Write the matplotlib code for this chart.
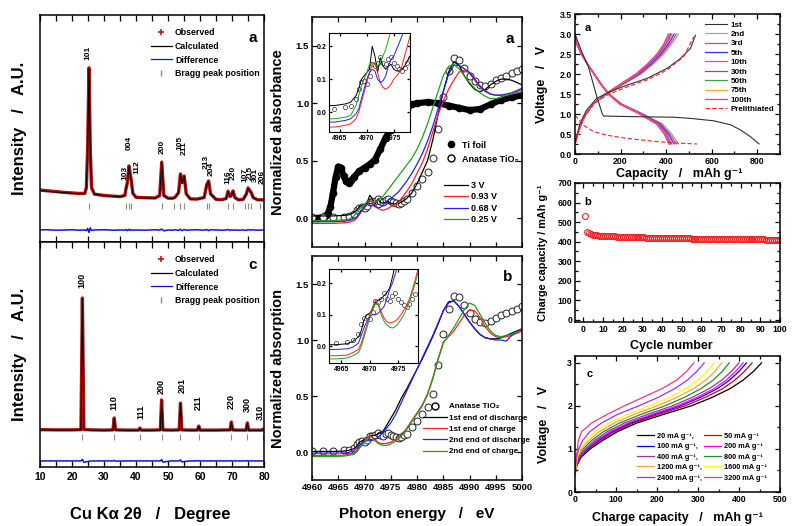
import matplotlib
matplotlib.use('Agg')
import matplotlib.pyplot as plt
from matplotlib.ticker import MultipleLocator, FormatStrFormatter
from matplotlib.lines import Line2D

plt.rcParams['font.family'] = ['Liberation Sans', 'DejaVu Sans']
plt.rcParams['font.weight'] = 'bold'
plt.rcParams['axes.labelweight'] = 'bold'
plt.rcParams['axes.linewidth'] = 1.1
plt.rcParams['xtick.direction'] = 'in'
plt.rcParams['ytick.direction'] = 'in'
plt.rcParams['mathtext.default'] = 'bf'

# ---------------- XRD (left) ----------------
tt_a = [10, 12, 15, 18, 20, 22, 24, 24.5, 24.9, 25.3, 25.7, 26.1, 27, 30, 33, 35, 36.5,
        36.95, 37.3, 37.8, 38.2, 38.57, 39.0, 40, 43, 46, 47.4, 48.05, 48.7, 50, 51.5, 52.2,
        53.3, 53.89, 54.4, 55.06, 55.7, 57, 59, 61.3, 62.1, 62.69, 63.3, 65, 67, 68.2, 68.76,
        69.4, 69.8, 70.31, 70.9, 72, 73.5, 74.5, 75.03, 75.6, 76.02, 76.6, 78, 80]
obs_a = [229, 226, 222, 218, 216, 214, 214, 240, 420, 767, 420, 240, 211, 205, 202, 200, 205,
         240, 262, 335, 300, 268, 215, 197, 195, 194, 205, 352, 205, 193, 193, 197,
         218, 300, 262, 291, 212, 190, 189, 196, 252, 269, 212, 188, 187, 192, 224,
         200, 206, 225, 196, 186, 188, 212, 238, 226, 218, 196, 186, 186]
calc_a = [227, 224, 220, 217, 215, 213, 213, 238, 418, 765, 418, 238, 210, 204, 201, 199, 204,
          238, 260, 333, 298, 266, 214, 196, 194, 193, 204, 350, 204, 192, 192, 196,
          217, 298, 260, 289, 211, 189, 188, 195, 250, 267, 211, 187, 186, 191, 222,
          199, 205, 223, 195, 185, 187, 211, 236, 225, 217, 195, 185, 185]
diff_a = [53, 54, 52, 53, 54, 52, 53, 50, 60, 42, 62, 51, 53, 54, 52, 53, 52, 55, 50, 56,
          51, 54, 52, 53, 52, 54, 52, 57, 49, 53, 52, 54, 51, 56, 50, 55, 52, 53, 54, 52,
          55, 50, 54, 53, 52, 53, 55, 51, 54, 52, 53, 52, 53, 51, 55, 52, 54, 53, 52, 53]
bragg_a = [25.28, 36.95, 37.80, 38.57, 48.05, 51.9, 53.89, 55.06, 62.12, 62.69, 68.76, 70.31,
           74.03, 75.03, 76.02, 78.9]
hkl_a = ['101', '103', '004', '112', '200', '105', '211', '213', '204', '116', '220', '107',
         '215', '301', '206']
hkl_a_x = [25.0, 36.6, 37.8, 40.3, 48.1, 53.75, 55.0, 62.0, 63.6, 68.6, 70.4, 74.1, 75.7, 77.3, 79.4]
hkl_a_y = [833, 304, 436, 330, 419, 436, 414, 352, 322, 286, 304, 295, 304, 295, 286]

tt_c = [10, 15, 20, 22.8, 23.25, 23.7, 26, 30, 32.8, 33.2, 33.6, 37, 40.8, 41.2, 41.6, 45,
        47.6, 48.0, 48.4, 51, 53.5, 53.9, 54.3, 57, 59.2, 59.6, 60.0, 65, 69.4, 69.8, 70.2,
        72, 74.4, 74.8, 75.2, 77, 79.4, 79.8, 80]
obs_c = [166, 165, 165, 166, 751, 167, 165, 164, 165, 218, 165, 164, 164, 173, 164, 164,
         165, 298, 165, 164, 165, 284, 165, 164, 164, 182, 164, 164, 165, 200, 165,
         164, 164, 196, 164, 164, 164, 169, 166]
calc_c = [165, 164, 164, 165, 749, 166, 164, 163, 164, 216, 164, 163, 163, 172, 163, 163,
          164, 296, 164, 163, 164, 282, 164, 163, 163, 181, 163, 163, 164, 199, 164,
          163, 163, 195, 163, 163, 163, 168, 165]
diff_c = [27, 27, 27, 27, 34, 21, 27, 27, 27, 29, 26, 27, 27, 27, 27, 27, 27, 33, 22, 27,
          27, 32, 23, 27, 27, 28, 27, 27, 27, 28, 27, 27, 27, 28, 27, 27, 27, 27, 27]
bragg_c = [23.25, 33.2, 41.2, 48.0, 53.9, 59.6, 69.8, 74.8, 79.8]
hkl_c = ['100', '110', '111', '200', '201', '211', '220', '300', '310']
hkl_c_x = [23.1, 33.1, 41.6, 47.8, 54.4, 59.4, 69.7, 74.7, 78.75]
hkl_c_y = [831, 284, 244, 356, 364, 284, 289, 276, 244]

# ---------------- XANES (middle) ----------------
E = [4960, 4962, 4964, 4966, 4967, 4968, 4968.5, 4969, 4969.5, 4970, 4970.5, 4971, 4971.5,
     4972, 4972.5, 4973, 4973.5, 4974, 4974.5, 4975, 4975.5, 4976, 4976.5, 4977, 4977.5,
     4978, 4979, 4980, 4981, 4982, 4983, 4984, 4985, 4986, 4987, 4988, 4989, 4990, 4991,
     4992, 4993, 4994, 4995, 4996, 4997, 4998, 4999, 5000]
anatase = [0.01, 0.01, 0.01, 0.015, 0.02, 0.04, 0.07, 0.09, 0.095, 0.085, 0.11, 0.145, 0.14,
           0.15, 0.168, 0.15, 0.145, 0.16, 0.168, 0.15, 0.14, 0.13, 0.125, 0.135, 0.15,
           0.165, 0.22, 0.28, 0.34, 0.40, 0.52, 0.78, 1.05, 1.28, 1.39, 1.38, 1.31, 1.24,
           1.19, 1.16, 1.15, 1.17, 1.20, 1.22, 1.24, 1.26, 1.28, 1.30]
v_3 = [0.02, 0.02, 0.02, 0.025, 0.03, 0.05, 0.07, 0.10, 0.11, 0.12, 0.13, 0.20, 0.17, 0.12,
       0.165, 0.14, 0.13, 0.14, 0.145, 0.13, 0.125, 0.125, 0.13, 0.14, 0.155, 0.17, 0.22,
       0.30, 0.40, 0.50, 0.68, 0.90, 1.10, 1.27, 1.36, 1.33, 1.24, 1.17, 1.12, 1.10, 1.12,
       1.16, 1.19, 1.21, 1.21, 1.20, 1.18, 1.16]
v_093 = [-0.045, -0.045, -0.045, -0.04, -0.035, -0.02, 0.0, 0.03, 0.06, 0.09, 0.12, 0.145,
         0.15, 0.12, 0.09, 0.075, 0.07, 0.075, 0.085, 0.10, 0.11, 0.12, 0.14, 0.17, 0.20,
         0.23, 0.30, 0.39, 0.48, 0.60, 0.75, 0.90, 1.02, 1.12, 1.20, 1.27, 1.29, 1.26, 1.20,
         1.14, 1.10, 1.08, 1.07, 1.07, 1.07, 1.08, 1.10, 1.12]
v_068 = [-0.03, -0.03, -0.03, -0.025, -0.02, -0.005, 0.01, 0.04, 0.07, 0.10, 0.12, 0.13,
         0.125, 0.10, 0.09, 0.095, 0.11, 0.14, 0.16, 0.17, 0.19, 0.21, 0.23, 0.26, 0.29,
         0.32, 0.39, 0.47, 0.56, 0.67, 0.80, 0.95, 1.10, 1.25, 1.33, 1.33, 1.30, 1.27, 1.21,
         1.15, 1.11, 1.08, 1.07, 1.07, 1.08, 1.09, 1.11, 1.13]
v_025 = [-0.02, -0.02, -0.02, -0.015, -0.01, 0.02, 0.05, 0.08, 0.10, 0.12, 0.145, 0.15,
         0.145, 0.14, 0.15, 0.17, 0.19, 0.22, 0.25, 0.28, 0.31, 0.34, 0.37, 0.40, 0.43,
         0.46, 0.52, 0.60, 0.70, 0.82, 0.96, 1.10, 1.24, 1.32, 1.34, 1.30, 1.24, 1.18, 1.13,
         1.09, 1.06, 1.04, 1.04, 1.05, 1.07, 1.08, 1.09, 1.10]
dis_1 = [0.005, 0.005, 0.005, 0.008, 0.015, 0.03, 0.05, 0.085, 0.10, 0.105, 0.12, 0.14,
         0.147, 0.15, 0.16, 0.17, 0.185, 0.22, 0.26, 0.30, 0.34, 0.38, 0.43, 0.48, 0.52,
         0.56, 0.65, 0.74, 0.83, 0.93, 1.03, 1.14, 1.26, 1.34, 1.35, 1.30, 1.23, 1.16, 1.10,
         1.05, 1.02, 1.01, 1.01, 1.02, 1.04, 1.06, 1.08, 1.10]
chg_1 = [-0.03, -0.03, -0.03, -0.028, -0.02, -0.01, 0.01, 0.04, 0.07, 0.10, 0.125, 0.145,
         0.135, 0.11, 0.09, 0.078, 0.074, 0.076, 0.08, 0.088, 0.10, 0.115, 0.13, 0.15, 0.18,
         0.21, 0.28, 0.35, 0.42, 0.52, 0.66, 0.83, 0.98, 1.03, 1.08, 1.15, 1.22, 1.27, 1.26,
         1.20, 1.12, 1.06, 1.03, 1.02, 1.03, 1.04, 1.06, 1.08]
dis_2 = [-0.01, -0.01, -0.01, -0.008, -0.003, 0.01, 0.035, 0.06, 0.08, 0.095, 0.10, 0.10,
         0.105, 0.115, 0.126, 0.15, 0.18, 0.20, 0.23, 0.26, 0.30, 0.34, 0.39, 0.44, 0.49,
         0.54, 0.64, 0.74, 0.84, 0.94, 1.04, 1.15, 1.26, 1.33, 1.35, 1.30, 1.23, 1.16, 1.10,
         1.05, 1.02, 1.01, 1.00, 1.00, 0.99, 1.04, 1.07, 1.09]
chg_2 = [-0.04, -0.04, -0.04, -0.037, -0.03, -0.02, 0.0, 0.03, 0.06, 0.09, 0.115, 0.135,
         0.13, 0.10, 0.08, 0.068, 0.06, 0.058, 0.062, 0.072, 0.085, 0.10, 0.12, 0.14, 0.17,
         0.20, 0.27, 0.34, 0.41, 0.51, 0.65, 0.82, 0.97, 1.04, 1.11, 1.19, 1.27, 1.33, 1.31,
         1.23, 1.15, 1.08, 1.04, 1.03, 1.04, 1.05, 1.07, 1.09]
ti_E = [4960, 4961, 4962, 4962.5, 4963, 4963.5, 4964, 4964.5, 4965, 4965.5, 4966, 4966.5,
        4967, 4967.5, 4968, 4969, 4970, 4971, 4972, 4973, 4974, 4975, 4976, 4977, 4978,
        4979, 4980, 4982, 4984, 4986, 4988, 4990, 4992, 4994, 4996, 4998, 5000]
ti_mu = [0.0, 0.0, 0.01, 0.02, 0.04, 0.10, 0.22, 0.36, 0.45, 0.44, 0.37, 0.32, 0.31, 0.33,
         0.36, 0.41, 0.44, 0.47, 0.51, 0.60, 0.70, 0.77, 0.84, 0.90, 0.95, 0.99, 1.00, 1.01,
         1.00, 0.98, 0.96, 0.94, 0.95, 0.99, 1.03, 1.05, 1.07]

# ---------------- Electrochemistry (right) ----------------
Vc = [0.25, 0.5, 0.8, 1.0, 1.25, 1.5, 1.75, 2.0, 2.25, 2.5, 2.75, 3.0]
Vd = [3.0, 2.75, 2.5, 2.25, 2.0, 1.75, 1.5, 1.25, 1.0, 0.75, 0.5, 0.25]
cycles = ['2nd', '3rd', '5th', '10th', '30th', '50th', '75th', '100th']
cyc_colors = ['#a8a8a8', '#ff4040', '#3030ff', '#ff30ff', '#a040a0', '#40a040', '#ffa040', '#ff3090']
chg_caps = [
    [0, 12, 30, 48, 80, 140, 215, 290, 345, 390, 425, 455],
    [0, 12, 30, 48, 80, 138, 212, 285, 338, 383, 417, 445],
    [0, 12, 30, 48, 80, 137, 208, 280, 332, 376, 410, 435],
    [0, 12, 30, 48, 80, 136, 205, 275, 327, 370, 403, 425],
    [0, 12, 30, 48, 80, 135, 203, 272, 323, 366, 398, 420],
    [0, 12, 30, 48, 80, 135, 202, 270, 321, 363, 395, 415],
    [0, 12, 30, 48, 80, 134, 201, 268, 319, 361, 392, 413],
    [0, 12, 30, 48, 80, 134, 200, 267, 318, 360, 390, 410]]
dis_caps = [
    [0, 8, 28, 55, 85, 115, 150, 205, 300, 385, 425, 455],
    [0, 8, 28, 55, 85, 115, 150, 203, 296, 378, 417, 445],
    [0, 8, 28, 55, 85, 114, 149, 201, 292, 372, 410, 435],
    [0, 8, 28, 55, 84, 113, 148, 199, 288, 366, 403, 425],
    [0, 8, 28, 54, 84, 113, 147, 198, 286, 363, 399, 420],
    [0, 8, 28, 54, 84, 112, 147, 197, 285, 361, 396, 416],
    [0, 8, 28, 54, 83, 112, 146, 196, 284, 359, 394, 414],
    [0, 8, 28, 54, 83, 112, 146, 196, 283, 358, 392, 412]]
d1_cap = [0, 30, 59, 95, 120, 125, 200, 300, 433, 507, 609, 683, 727, 771, 808]
d1_v = [3.0, 2.55, 2.18, 1.45, 1.0, 0.95, 0.94, 0.93, 0.92, 0.89, 0.83, 0.73, 0.60, 0.43, 0.25]
c1_cap = [0, 22, 51, 95, 154, 228, 316, 404, 463, 507, 529]
c1_v = [0.27, 0.77, 1.10, 1.39, 1.56, 1.72, 1.89, 2.14, 2.39, 2.64, 2.97]
pd_cap = [0, 37, 81, 140, 228, 360, 463, 536]
pd_v = [0.97, 0.72, 0.56, 0.47, 0.39, 0.31, 0.27, 0.25]
pc_cap = [0, 15, 44, 90, 150, 230, 320, 404, 477, 521]
pc_v = [0.25, 0.60, 0.95, 1.30, 1.50, 1.68, 1.86, 2.10, 2.43, 2.93]

cycle_no = list(range(1, 101))
charge_cap = [530, 450, 443, 439, 436, 434, 432, 431, 430, 429,
              428, 428, 427, 427, 426, 426, 425, 425, 425, 424,
              424, 423, 423, 423, 422, 422, 422, 421, 421, 421,
              421, 420, 420, 420, 420, 419, 419, 419, 419, 418,
              418, 418, 418, 418, 417, 417, 417, 417, 417, 416,
              416, 416, 416, 416, 415, 415, 415, 415, 415, 415,
              414, 414, 414, 414, 414, 414, 414, 413, 413, 413,
              413, 413, 413, 413, 413, 412, 412, 412, 412, 412,
              412, 412, 412, 411, 411, 411, 411, 411, 411, 411,
              411, 411, 410, 410, 410, 410, 410, 410, 410, 410]

Vr = [0.4, 0.6, 0.8, 1.0, 1.2, 1.4, 1.6, 1.8, 2.0, 2.2, 2.4, 2.6, 2.8, 3.0]
rates = ['20', '50', '100', '200', '400', '800', '1200', '1600', '2400', '3200']
rate_colors = ['#000000', '#e00000', '#0000ff', '#ff00ff', '#a030a0', '#209020', '#ffa040',
               '#ffff00', '#9b30ff', '#ff3080']
rate_caps = [
    [0, 4, 14, 37, 68, 103, 150, 215, 283, 335, 378, 410, 435, 455],
    [0, 4, 12, 33, 62, 96, 142, 203, 268, 318, 360, 390, 413, 432],
    [0, 3, 11, 30, 57, 90, 135, 194, 257, 306, 347, 377, 400, 418],
    [0, 3, 10, 28, 53, 85, 129, 187, 249, 298, 339, 369, 392, 410],
    [0, 3, 9, 25, 48, 78, 120, 176, 237, 286, 327, 358, 381, 400],
    [0, 2, 7, 20, 41, 69, 108, 160, 219, 267, 307, 337, 359, 376],
    [0, 2, 6, 16, 34, 59, 95, 143, 200, 249, 289, 319, 341, 358],
    [0, 2, 5, 12, 27, 49, 82, 127, 182, 230, 270, 300, 322, 340],
    [0, 1, 4, 9, 19, 36, 64, 103, 155, 203, 243, 274, 297, 315],
    [0, 1, 3, 6, 8, 16, 40, 78, 120, 166, 212, 248, 272, 290]]

# ======================================================================
fig = plt.figure(figsize=(7.95, 5.26), dpi=100)
W, H = 795.0, 526.0


def fr(x0, y0, x1, y1):
    return [x0 / W, 1 - y1 / H, (x1 - x0) / W, (y1 - y0) / H]


TL = 6.3  # tick label size


def style(ax, labelsize=TL):
    ax.tick_params(which='both', direction='in', top=True, right=True, labelsize=labelsize,
                   width=0.9, pad=2)
    ax.tick_params(which='major', length=3.5)
    ax.tick_params(which='minor', length=2)


# ---------- XRD ----------
axa = fig.add_axes(fr(40, 15, 264, 242))
axc = fig.add_axes(fr(40, 242, 264, 467))
for ax, tt, obs, calc, diff, bragg, ytick_b in [
        (axa, tt_a, obs_a, calc_a, diff_a, bragg_a, 159),
        (axc, tt_c, obs_c, calc_c, diff_c, bragg_c, 133)]:
    ax.plot(tt, obs, color='#b01010', lw=2.4, solid_joinstyle='round')
    ax.plot(tt, calc, color='black', lw=0.7)
    ax.plot(tt, diff, color='#1010e0', lw=1.1)
    ax.plot(bragg, [ytick_b] * len(bragg), ls='none', marker='|', color='#8a9070', ms=4, mew=0.8)
    ax.set_xlim(10, 80)
    ax.set_ylim(0, 1000)
    ax.set_yticks([])
    ax.xaxis.set_major_locator(MultipleLocator(10))
    ax.xaxis.set_minor_locator(MultipleLocator(5))
    ax.tick_params(which='both', direction='in', top=True, bottom=True, labelsize=7.5, width=0.9)
    ax.tick_params(which='major', length=4)
    ax.tick_params(which='minor', length=4)
    ax.set_ylabel('Intensity   /   A.U.', fontsize=12)
    handles = [Line2D([], [], ls='none', marker='+', color='#d01010', ms=5, mew=1.2),
               Line2D([], [], color='black', lw=0.9),
               Line2D([], [], color='#1010e0', lw=0.9),
               Line2D([], [], ls='none', marker='|', color='#8a9070', ms=5)]
    ax.legend(handles, ['Observed', 'Calculated', 'Difference', 'Bragg peak position'],
              loc='upper left', bbox_to_anchor=(0.47, 0.97), frameon=False, fontsize=6.3,
              handlelength=2.3, labelspacing=0.55, handletextpad=0.4, borderpad=0.2)
axa.tick_params(labelbottom=False, bottom=False)
axa.yaxis.set_label_coords(-0.058, 0.5)
axc.yaxis.set_label_coords(-0.058, 0.5)
for lab, x, y in zip(hkl_a, hkl_a_x, hkl_a_y):
    axa.text(x, y, lab, rotation=90, ha='center', va='center', fontsize=6)
for lab, x, y in zip(hkl_c, hkl_c_x, hkl_c_y):
    axc.text(x, y, lab, rotation=90, ha='center', va='center', fontsize=6.5)
axa.text(0.95, 0.9, 'a', transform=axa.transAxes, fontsize=11, ha='center', va='center')
axc.text(0.95, 0.897, 'c', transform=axc.transAxes, fontsize=11, ha='center', va='center')
axc.set_xlabel('Cu K\u03b1 2\u03b8   /   Degree', fontsize=12)
axc.xaxis.set_label_coords(0.49, -0.178)

# ---------- XANES a ----------
xa = fig.add_axes(fr(312, 17, 522, 247))
xb = fig.add_axes(fr(312, 256, 522, 480))
for ax in (xa, xb):
    ax.set_xlim(4960, 5000)
    ax.set_ylim(-0.25, 1.75)
    ax.xaxis.set_major_locator(MultipleLocator(5))
    ax.yaxis.set_major_locator(MultipleLocator(0.5))
    ax.yaxis.set_major_formatter(FormatStrFormatter('%.1f'))
    style(ax, labelsize=6.8)
    ax.yaxis.set_label_coords(-0.13, 0.5)

xa.plot(ti_E, ti_mu, color='black', lw=4.5, marker='o', ms=4.5, mfc='black', mec='black')
xa.plot(E, anatase, ls='none', marker='o', ms=5, mfc='white', mec='#222222', mew=0.7)
l3, = xa.plot(E, v_3, color='black', lw=0.9)
l093, = xa.plot(E, v_093, color='#ff2020', lw=0.9)
l068, = xa.plot(E, v_068, color='#2020ff', lw=0.9)
l025, = xa.plot(E, v_025, color='#20a020', lw=0.9)
xa.tick_params(labelbottom=False)
xa.set_ylabel('Normalized absorbance', fontsize=10.5)
leg1 = xa.legend([Line2D([], [], ls='none', marker='o', ms=4.5, color='black'),
                  Line2D([], [], ls='none', marker='o', ms=5, mfc='white', mec='black')],
                 ['Ti foil', 'Anatase TiO\u2082'], loc='upper left', bbox_to_anchor=(0.6, 0.49),
                 frameon=False, fontsize=6.5, handlelength=1.5, handletextpad=0.5,
                 labelspacing=0.55, borderpad=0.2)
xa.add_artist(leg1)
xa.legend([l3, l093, l068, l025], ['3 V', '0.93 V', '0.68 V', '0.25 V'], loc='upper left',
          bbox_to_anchor=(0.6, 0.315), frameon=False, fontsize=6.5, handlelength=2.6,
          handletextpad=0.4, labelspacing=0.28, borderpad=0.2)
xa.text(0.943, 0.905, 'a', transform=xa.transAxes, fontsize=11, ha='center', va='center')

ia = fig.add_axes(fr(329, 33, 410, 132))
ia.plot(E, anatase, ls='none', marker='o', ms=3, mfc='white', mec='#333333', mew=0.5)
ia.plot(E, v_3, color='black', lw=0.7)
ia.plot(E, v_093, color='#ff2020', lw=0.7)
ia.plot(E, v_068, color='#2020ff', lw=0.7)
ia.plot(E, v_025, color='#20a020', lw=0.7)
ia.set_xlim(4963, 4978)
ia.set_ylim(-0.06, 0.24)

# ---------- XANES b ----------
xb.plot(E, anatase, ls='none', marker='o', ms=5, mfc='white', mec='#222222', mew=0.7)
b1, = xb.plot(E, dis_1, color='black', lw=0.9)
b2, = xb.plot(E, chg_1, color='#ff2020', lw=0.9)
b3, = xb.plot(E, dis_2, color='#2020ff', lw=0.9)
b4, = xb.plot(E, chg_2, color='#20a020', lw=0.9)
xb.set_ylabel('Normalized absorption', fontsize=10.5)
xb.set_xlabel('Photon energy   /   eV', fontsize=11)
xb.xaxis.set_label_coords(0.5, -0.12)
xb.legend([Line2D([], [], ls='none', marker='o', ms=5, mfc='white', mec='black'), b1, b2, b3, b4],
          ['Anatase TiO\u2082', '1st end of discharge', '1st end of charge',
           '2nd end of discharge', '2nd end of charge'],
          loc='upper left', bbox_to_anchor=(0.5, 0.37), frameon=False, fontsize=5.8,
          handlelength=3.0, handletextpad=0.3, labelspacing=0.45, borderpad=0.2)
xb.text(0.933, 0.906, 'b', transform=xb.transAxes, fontsize=11, ha='center', va='center')

ib = fig.add_axes(fr(329, 269, 418, 363))
ib.plot(E, anatase, ls='none', marker='o', ms=3, mfc='white', mec='#333333', mew=0.5)
ib.plot(E, dis_1, color='black', lw=0.7)
ib.plot(E, chg_1, color='#ff2020', lw=0.7)
ib.plot(E, dis_2, color='#2020ff', lw=0.7)
ib.plot(E, chg_2, color='#20a020', lw=0.7)
ib.set_xlim(4962.8, 4978.5)
ib.set_ylim(-0.053, 0.245)
for ax in (ia, ib):
    ax.xaxis.set_major_locator(MultipleLocator(5))
    ax.yaxis.set_major_locator(MultipleLocator(0.1))
    ax.yaxis.set_major_formatter(FormatStrFormatter('%.1f'))
    style(ax, labelsize=5)
    ax.tick_params(which='major', length=2)
    for s in ax.spines.values():
        s.set_linewidth(0.8)

# ---------- Right a ----------
ra = fig.add_axes(fr(575, 14, 780, 154))
for lab, col, cc, dc in zip(cycles, cyc_colors, chg_caps, dis_caps):
    ra.plot(cc, Vc, color=col, lw=0.9)
    ra.plot(dc, Vd, color=col, lw=0.9)
h1, = ra.plot(d1_cap, d1_v, color='#303030', lw=0.8)
ra.plot(c1_cap, c1_v, color='#303030', lw=0.8)
hp, = ra.plot(pd_cap, pd_v, color='#ff2020', lw=0.8, ls=(0, (4, 2)))
ra.plot(pc_cap, pc_v, color='#ff2020', lw=0.8, ls=(0, (4, 2)))
ra.set_xlim(0, 900)
ra.set_ylim(0, 3.5)
ra.xaxis.set_major_locator(MultipleLocator(200))
ra.xaxis.set_minor_locator(MultipleLocator(100))
ra.yaxis.set_major_locator(MultipleLocator(0.5))
ra.yaxis.set_minor_locator(MultipleLocator(0.25))
ra.yaxis.set_major_formatter(FormatStrFormatter('%.1f'))
style(ra)
handles = [h1] + [Line2D([], [], color=c, lw=0.9) for c in cyc_colors] + [hp]
ra.legend(handles, ['1st'] + cycles + ['Prelithiated'], loc='upper left',
          bbox_to_anchor=(0.61, 0.985), frameon=False, fontsize=5.8, handlelength=2.8,
          handletextpad=0.4, labelspacing=0.22, borderpad=0.1)
ra.text(0.06, 0.9, 'a', transform=ra.transAxes, fontsize=8, ha='center', va='center')
ra.set_ylabel('Voltage   /   V', fontsize=9)
ra.set_xlabel('Capacity   /   mAh g\u207b\u00b9', fontsize=9)
ra.yaxis.set_label_coords(-0.13, 0.5)
ra.xaxis.set_label_coords(0.51, -0.1)

# ---------- Right b ----------
rb = fig.add_axes(fr(575, 183, 780, 322))
rb.plot(cycle_no, charge_cap, ls='none', marker='o', ms=4.2, mfc='none', mec='#ee2020', mew=0.8)
rb.set_xlim(-4.3, 100)
rb.set_ylim(-12, 700)
rb.xaxis.set_major_locator(MultipleLocator(10))
rb.xaxis.set_minor_locator(MultipleLocator(5))
rb.yaxis.set_major_locator(MultipleLocator(100))
rb.yaxis.set_minor_locator(MultipleLocator(50))
style(rb)
rb.text(0.06, 0.86, 'b', transform=rb.transAxes, fontsize=8, ha='center', va='center')
rb.set_ylabel('Charge capacity / mAh g\u207b\u00b9', fontsize=7.8)
rb.set_xlabel('Cycle number', fontsize=9)
rb.yaxis.set_label_coords(-0.13, 0.5)
rb.xaxis.set_label_coords(0.47, -0.13)

# ---------- Right c ----------
rc = fig.add_axes(fr(575, 356, 780, 492))
rate_handles = []
for r, col, caps in zip(rates, rate_colors, rate_caps):
    h, = rc.plot(caps, Vr, color=col, lw=0.9)
    rate_handles.append(h)
rc.set_xlim(0, 500)
rc.set_ylim(0, 3.16)
rc.xaxis.set_major_locator(MultipleLocator(100))
rc.xaxis.set_minor_locator(MultipleLocator(50))
rc.yaxis.set_major_locator(MultipleLocator(1))
rc.yaxis.set_minor_locator(MultipleLocator(0.5))
style(rc)
labels = [f'{r} mA g\u207b\u00b9' + (',' if i % 2 == 0 else '') for i, r in enumerate(rates)]
order = [0, 2, 4, 6, 8, 1, 3, 5, 7, 9]
rc.legend([rate_handles[i] for i in order], [labels[i] for i in order], ncol=2,
          loc='upper left', bbox_to_anchor=(0.28, 0.47), frameon=False, fontsize=5.3,
          handlelength=2.4, handletextpad=0.3, labelspacing=0.45, columnspacing=0.3,
          borderpad=0.1)
rc.text(0.07, 0.87, 'c', transform=rc.transAxes, fontsize=8, ha='center', va='center')
rc.set_ylabel('Voltage   /   V', fontsize=9)
rc.set_xlabel('Charge capacity   /   mAh g\u207b\u00b9', fontsize=9)
rc.yaxis.set_label_coords(-0.12, 0.5)
rc.xaxis.set_label_coords(0.5, -0.15)

fig.savefig('out.png', dpi=100)
